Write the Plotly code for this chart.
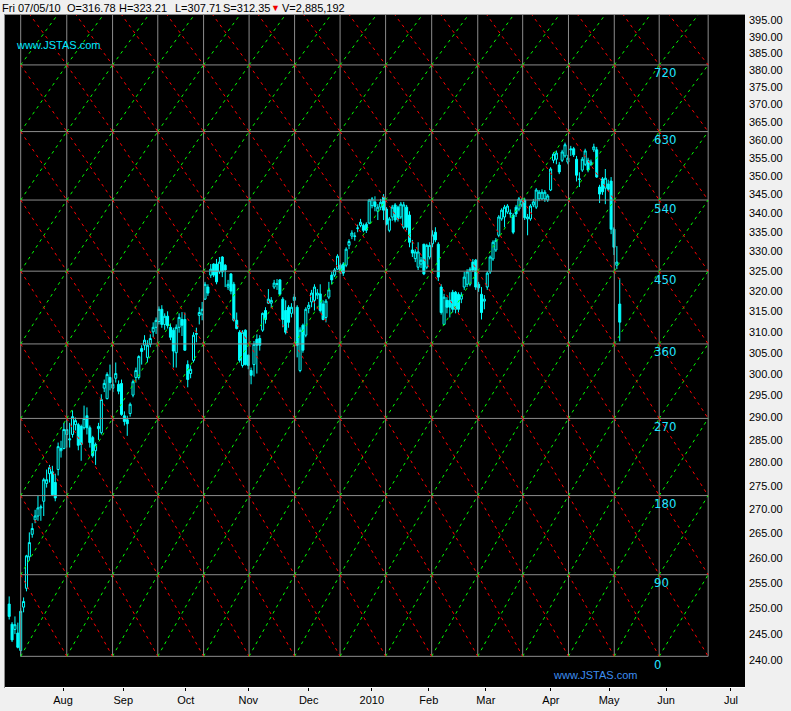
import math
import plotly.graph_objects as go

# ---------------- data ----------------
FIRST_BAR = -4  # bar index of first candle (bar 0 = swing low)
OPEN = [250.8, 246.9, 245.9, 245.2, 241.9, 250.2, 253.9, 260.2, 264.8, 267.8,
        268.6, 270.3, 271.7, 275.5, 277.6, 278.0, 275.7, 278.5, 282.6, 283.1,
        286.2, 285.0, 286.2, 288.4, 288.4, 288.0, 287.7, 290.4, 287.7, 285.5,
        282.6, 287.5, 286.6, 296.7, 294.3, 299.2, 296.7, 299.0, 297.6, 297.8,
        290.4, 289.5, 290.9, 295.1, 299.2, 299.2, 306.0, 306.8, 303.9, 307.0,
        310.0, 311.1, 312.5, 315.5, 311.8, 313.8, 311.1, 310.4, 305.0, 311.1,
        313.0, 313.0, 302.2, 300.1, 303.2, 309.4, 314.0, 314.3, 318.0, 321.0,
        324.0, 326.8, 326.8, 324.8, 328.6, 326.5, 321.0, 324.3, 321.7, 312.8,
        309.9, 302.0, 310.4, 304.4, 300.8, 302.2, 308.2, 308.4, 310.4, 315.2,
        317.0, 317.0, 321.0, 321.7, 322.8, 318.0, 315.2, 316.0, 314.5, 317.7,
        316.0, 300.8, 311.6, 309.2, 315.7, 317.3, 317.7, 319.0, 319.3, 316.8,
        313.5, 318.5, 324.0, 324.0, 325.5, 326.5, 326.8, 326.5, 331.6, 334.0,
        333.9, 336.0, 336.8, 336.8, 337.1, 337.4, 342.0, 343.0, 340.5, 341.6,
        344.3, 341.1, 335.5, 339.0, 342.2, 341.6, 339.0, 336.3, 341.6, 339.5,
        330.4, 328.2, 326.0, 326.8, 331.9, 326.0, 328.6, 332.0, 335.0, 331.9,
        321.0, 311.8, 317.7, 317.7, 319.7, 319.7, 319.2, 318.0, 321.0, 321.7,
        321.7, 327.3, 327.8, 321.7, 319.2, 317.5, 321.0, 324.8, 328.1, 330.4,
        334.2, 338.5, 339.0, 340.3, 339.8, 339.5, 341.6, 341.1, 342.2, 343.5,
        338.5, 338.5, 342.2, 341.6, 343.8, 343.8, 343.8, 343.5, 346.2, 354.3,
        354.6, 353.0, 354.3, 355.5, 353.8, 357.2, 357.5, 354.6, 349.2, 351.6,
        353.2, 354.3, 353.2, 357.2, 357.2, 347.0, 349.2, 346.7, 347.8, 348.6,
        335.8, 326.5, 316.78]
HIGH = [252.3, 247.3, 248.4, 247.2, 250.0, 252.1, 260.6, 265.2, 267.1, 269.9,
        272.9, 271.0, 276.7, 278.5, 279.5, 279.3, 277.6, 284.4, 284.8, 288.8,
        289.4, 288.8, 291.6, 290.0, 288.8, 288.4, 292.7, 292.3, 288.2, 285.9,
        284.4, 288.8, 295.3, 298.7, 300.4, 302.2, 298.7, 302.7, 298.5, 298.7,
        291.4, 290.4, 293.4, 298.7, 301.5, 304.4, 306.8, 309.2, 308.0, 309.4,
        312.3, 313.5, 316.2, 316.5, 314.5, 315.0, 312.0, 311.0, 311.8, 314.5,
        314.8, 314.7, 303.2, 302.0, 309.9, 311.0, 316.0, 317.3, 322.3, 321.7,
        326.8, 327.0, 328.1, 328.6, 328.8, 326.8, 322.8, 324.5, 322.3, 314.7,
        310.4, 310.4, 310.6, 304.6, 301.5, 307.8, 309.4, 309.2, 314.7, 316.0,
        320.5, 318.5, 322.8, 323.0, 323.0, 318.5, 317.7, 316.5, 317.0, 319.3,
        316.5, 311.1, 312.0, 316.0, 317.3, 320.3, 321.7, 320.5, 321.7, 317.7,
        318.0, 322.3, 324.8, 325.8, 329.3, 327.0, 327.3, 331.1, 333.2, 335.5,
        335.0, 337.0, 338.5, 337.3, 337.6, 343.8, 344.3, 344.5, 342.4, 343.8,
        345.1, 341.6, 339.0, 342.2, 342.7, 342.0, 343.0, 343.0, 342.2, 340.5,
        333.0, 330.6, 332.4, 328.6, 331.9, 332.0, 332.4, 335.5, 336.3, 332.4,
        321.7, 319.3, 318.5, 319.7, 320.3, 320.0, 319.7, 319.7, 324.8, 325.5,
        326.0, 328.1, 328.1, 322.3, 321.0, 319.0, 325.0, 329.0, 332.9, 333.5,
        339.5, 341.3, 342.2, 342.4, 341.0, 340.0, 342.2, 344.3, 344.0, 344.0,
        339.8, 342.4, 343.8, 346.7, 346.2, 346.4, 346.2, 345.1, 352.4, 356.5,
        357.0, 353.8, 357.2, 359.2, 355.8, 358.3, 358.0, 355.5, 351.0, 355.2,
        357.5, 355.0, 354.5, 358.9, 358.0, 347.6, 349.7, 351.9, 349.0, 349.7,
        336.3, 331.4, 323.21]
LOW = [247.8, 243.5, 245.0, 242.3, 240.8, 249.2, 253.3, 259.4, 264.1, 267.1,
       267.6, 267.6, 268.6, 274.6, 275.7, 272.8, 271.7, 277.2, 281.1, 282.9,
       283.3, 283.3, 285.5, 287.1, 282.7, 280.4, 287.3, 286.2, 283.3, 281.1,
       279.5, 285.0, 286.2, 295.8, 294.1, 296.2, 295.8, 298.0, 295.3, 290.4,
       288.2, 285.9, 290.2, 294.6, 298.0, 298.7, 302.2, 305.6, 302.7, 306.3,
       308.7, 309.5, 311.8, 311.0, 310.5, 310.8, 308.0, 301.5, 301.5, 309.8,
       309.0, 305.5, 296.9, 299.0, 302.7, 307.5, 311.8, 312.8, 317.8, 318.8,
       323.3, 323.5, 321.7, 324.3, 323.5, 321.0, 320.3, 319.2, 312.5, 310.6,
       302.7, 301.5, 302.0, 301.1, 297.6, 299.4, 300.1, 305.5, 310.0, 312.0,
       316.8, 315.8, 320.5, 320.3, 318.8, 311.1, 309.4, 311.0, 313.5, 314.2,
       303.9, 300.4, 305.0, 308.7, 314.5, 316.0, 315.2, 318.0, 314.7, 312.8,
       312.3, 318.0, 321.7, 323.5, 325.3, 324.3, 323.8, 326.0, 330.6, 333.2,
       332.8, 335.0, 336.3, 335.0, 334.8, 337.1, 341.3, 340.5, 338.2, 340.8,
       338.2, 336.8, 335.0, 338.0, 337.6, 337.8, 338.5, 335.8, 335.5, 331.1,
       328.6, 327.3, 325.3, 325.8, 324.0, 325.5, 328.0, 331.1, 332.4, 322.5,
       314.2, 311.6, 314.5, 313.5, 314.7, 314.5, 314.7, 317.0, 320.3, 321.0,
       321.2, 324.8, 320.3, 319.8, 313.0, 315.5, 320.3, 324.3, 327.6, 329.9,
       333.7, 338.0, 336.3, 339.8, 338.8, 334.5, 339.0, 340.5, 341.6, 338.2,
       334.2, 338.0, 341.6, 341.1, 343.2, 343.5, 343.0, 343.0, 345.9, 353.5,
       353.2, 350.5, 353.8, 355.0, 353.2, 355.5, 355.2, 348.5, 347.0, 351.1,
       352.7, 351.0, 352.7, 356.6, 349.5, 342.7, 344.9, 342.4, 345.9, 334.5,
       329.1, 325.5, 307.71]
CLOSE = [248.4, 243.9, 246.8, 242.5, 249.4, 251.3, 260.4, 263.1, 266.0, 268.6,
         270.3, 270.5, 276.3, 276.3, 278.9, 273.1, 272.4, 283.5, 283.1, 287.3,
         287.3, 285.2, 290.2, 289.3, 283.8, 284.0, 289.8, 287.7, 284.4, 281.5,
         284.0, 288.0, 294.1, 297.8, 299.9, 298.0, 297.6, 300.1, 296.0, 290.7,
         289.1, 288.6, 293.0, 298.2, 300.8, 304.1, 305.3, 308.0, 306.8, 308.4,
         311.1, 312.8, 315.5, 311.8, 313.8, 311.5, 308.7, 305.4, 311.1, 313.5,
         311.6, 305.6, 298.7, 301.1, 309.2, 309.6, 314.7, 315.5, 321.7, 319.5,
         325.5, 324.0, 322.3, 327.3, 324.8, 325.3, 321.7, 320.0, 312.8, 310.8,
         303.2, 309.9, 302.2, 302.0, 299.7, 307.0, 306.8, 306.8, 314.5, 313.0,
         318.0, 317.7, 322.0, 321.8, 319.2, 313.0, 309.9, 312.3, 316.0, 318.5,
         306.8, 310.4, 305.6, 315.5, 316.5, 319.5, 321.0, 319.5, 315.2, 313.0,
         317.5, 320.3, 322.8, 325.3, 328.8, 324.8, 324.5, 330.6, 332.6, 334.8,
         334.0, 336.1, 337.6, 335.5, 335.5, 343.5, 343.8, 341.8, 341.6, 342.9,
         340.8, 337.1, 338.5, 341.6, 338.2, 338.5, 342.4, 342.2, 336.3, 332.4,
         329.6, 329.9, 329.9, 327.8, 324.3, 331.6, 331.6, 334.3, 333.0, 323.5,
         314.7, 318.5, 316.0, 316.0, 315.5, 315.5, 315.5, 319.0, 323.5, 324.8,
         325.5, 325.3, 321.0, 320.8, 314.7, 318.0, 324.5, 328.6, 332.4, 332.9,
         339.0, 340.8, 341.6, 341.9, 340.0, 335.0, 339.8, 343.8, 343.5, 338.8,
         339.0, 341.9, 343.0, 346.2, 345.6, 345.6, 345.6, 344.6, 351.9, 356.0,
         356.3, 351.1, 356.6, 358.6, 354.9, 357.4, 355.8, 350.2, 349.1, 354.6,
         356.9, 351.6, 353.8, 358.0, 349.7, 345.1, 345.7, 349.4, 346.4, 335.8,
         331.1, 327.3, 312.35]
LAST_DATE = "Fri 07/05/10"
LAST_VOLUME = 2885192

MONTH_TICK_POS = [14.7, 35.6, 57.3, 79.0, 100.0, 121.9, 141.7, 161.5, 184.1, 204.3, 224.1, 246.6]
MONTH_LABELS = ["Aug", "Sep", "Oct", "Nov", "Dec", "2010", "Feb", "Mar", "Apr", "May", "Jun", "Jul"]
PRICE_TICKS = [240, 245, 250, 255, 260, 265, 270, 275, 280, 285, 290, 295, 300, 305, 310,
               315, 320, 325, 330, 335, 340, 345, 350, 355, 360, 365, 370, 375, 380, 385,
               390, 395]

# Gann grid (square-of-nine levels and time columns)
GANN_LEVELS = [240.8, 256.6, 272.9, 289.8, 307.1, 325.0, 343.5, 362.3, 381.6, 400.7]
GANN_DEGREES = ["0", "90", "180", "270", "360", "450", "540", "630", "720"]
GRID_COLS = [0, 16.0, 31.9, 47.6, 63.5, 79.3, 95.1, 110.9, 126.7, 142.7, 158.7, 174.3,
             190.2, 206.1, 221.7, 238.7]

# ---------------- layout constants ----------------
W, H = 791, 711
ML, MR, MT, MB = 5, 46, 15, 21
PW, PH = W - ML - MR, H - MT - MB
BAR_PX = 2.88
X0_PX = 20.7 - ML
X_RANGE = [-X0_PX / BAR_PX, (PW - X0_PX) / BAR_PX]
Y_RANGE = [2.371291, 2.598488]
SANS = "Liberation Sans, Arial, sans-serif"

def px_x(px):
    return (px - ML) / PW

def px_y(py):
    return 1 - (py - MT) / PH

BAR_IDX = list(range(FIRST_BAR, FIRST_BAR + len(OPEN)))

fig = go.Figure()

# grey grid: horizontal levels (0..720) and vertical time columns
hx, hy = [], []
for lv in GANN_LEVELS[:-1]:
    hx += [GRID_COLS[0], GRID_COLS[-1], None]
    hy += [lv, lv, None]
for c in GRID_COLS:
    hx += [c, c, None]
    hy += [GANN_LEVELS[0], GANN_LEVELS[-1], None]
fig.add_trace(go.Scatter(x=hx, y=hy, mode="lines", line=dict(color="#8c8c8c", width=1),
                         hoverinfo="skip", showlegend=False))

# diagonals per cell
gx, gy, rx, ry = [], [], [], []
for j in range(len(GRID_COLS) - 1):
    for k in range(len(GANN_LEVELS) - 1):
        gx += [GRID_COLS[j], GRID_COLS[j + 1], None]
        gy += [GANN_LEVELS[k], GANN_LEVELS[k + 1], None]
        rx += [GRID_COLS[j], GRID_COLS[j + 1], None]
        ry += [GANN_LEVELS[k + 1], GANN_LEVELS[k], None]
fig.add_trace(go.Scatter(x=gx, y=gy, mode="lines",
                         line=dict(color="#00ff00", width=1, dash="3px,4px"),
                         hoverinfo="skip", showlegend=False))
fig.add_trace(go.Scatter(x=rx, y=ry, mode="lines",
                         line=dict(color="#ff0000", width=1, dash="3px,4px"),
                         hoverinfo="skip", showlegend=False))

# candles
fig.add_trace(go.Candlestick(
    x=BAR_IDX, open=OPEN, high=HIGH, low=LOW, close=CLOSE,
    increasing=dict(line=dict(color="#00ffff", width=1), fillcolor="#000000"),
    decreasing=dict(line=dict(color="#00ffff", width=1), fillcolor="#00ffff"),
    whiskerwidth=0, showlegend=False, hoverinfo="skip"))

ann = []
# degree labels
for lv, lab in zip(GANN_LEVELS, GANN_DEGREES):
    ann.append(dict(x=px_x(652), xref="paper", xanchor="left",
                    y=math.log10(lv), yref="y", yanchor="middle", yshift=-8,
                    text=lab, showarrow=False,
                    font=dict(family="Liberation Sans Narrow, DejaVu Sans Condensed, sans-serif",
                              size=13, color="#22e4ff")))

# header
header = [
    (1, LAST_DATE, "#000000"),
    (66, f"O={OPEN[-1]:.2f}", "#000000"),
    (117.5, f"H={HIGH[-1]:.2f}", "#000000"),
    (173.5, f"L={LOW[-1]:.2f}", "#000000"),
    (222, f"S={CLOSE[-1]:.2f}", "#000000"),
    (270, "\u25bc", "#ee0000"),
    (280.5, f"V={LAST_VOLUME:,}", "#000000"),
]
for px, t, col in header:
    f = dict(family=SANS, size=11, color=col)
    if t == "\u25bc":
        f["size"] = 9
    ann.append(dict(x=px_x(px), xref="paper", xanchor="left", y=px_y(7.5), yref="paper",
                    yanchor="middle", text=t, showarrow=False, font=f, borderpad=0))

# watermarks
ann.append(dict(x=px_x(14), xref="paper", xanchor="left", y=px_y(45), yref="paper",
                yanchor="middle", text="www.JSTAS.com", showarrow=False,
                font=dict(family=SANS, size=11, color="#00e8ff")))
ann.append(dict(x=px_x(551), xref="paper", xanchor="left", y=px_y(678), yref="paper",
                yanchor="middle", text="www.JSTAS.com", showarrow=False,
                font=dict(family=SANS, size=11, color="#3d8ef0")))

shapes = [
    dict(type="line", xref="paper", yref="paper", x0=px_x(4.5), x1=px_x(4.5),
         y0=px_y(14), y1=px_y(691), line=dict(color="#8c8c8c", width=1)),
    dict(type="line", xref="paper", yref="paper", x0=px_x(4), x1=px_x(745),
         y0=px_y(14.5), y1=px_y(14.5), line=dict(color="#8c8c8c", width=1)),
    dict(type="line", xref="paper", yref="paper", x0=px_x(5), x1=px_x(745),
         y0=px_y(690.5), y1=px_y(690.5), line=dict(color="#ffffff", width=1)),
]

fig.update_layout(
    width=W, height=H,
    margin=dict(l=ML, r=MR, t=MT, b=MB, pad=0),
    paper_bgcolor="#f0f0f0", plot_bgcolor="#000000",
    showlegend=False, annotations=ann, shapes=shapes, boxgap=0,
    xaxis=dict(range=X_RANGE, tickvals=MONTH_TICK_POS, ticktext=MONTH_LABELS,
               showgrid=False, zeroline=False, ticks="outside", ticklen=3,
               tickcolor="#000000", tickwidth=1, showline=False,
               tickfont=dict(family=SANS, size=11, color="#000000"),
               rangeslider=dict(visible=False), fixedrange=True),
    yaxis=dict(type="log", range=Y_RANGE, side="right", tickvals=PRICE_TICKS,
               ticktext=[f"{v:.2f}" for v in PRICE_TICKS],
               showgrid=False, zeroline=False, ticks="", showline=False,
               ticklabelstandoff=3,
               tickfont=dict(family=SANS, size=11, color="#000000"),
               fixedrange=True),
)

fig.write_html("out.html",
               config={"displayModeBar": False},
               post_script="document.body.style.margin='0px';document.body.style.padding='0px';"
                           "document.body.style.overflow='hidden';")
